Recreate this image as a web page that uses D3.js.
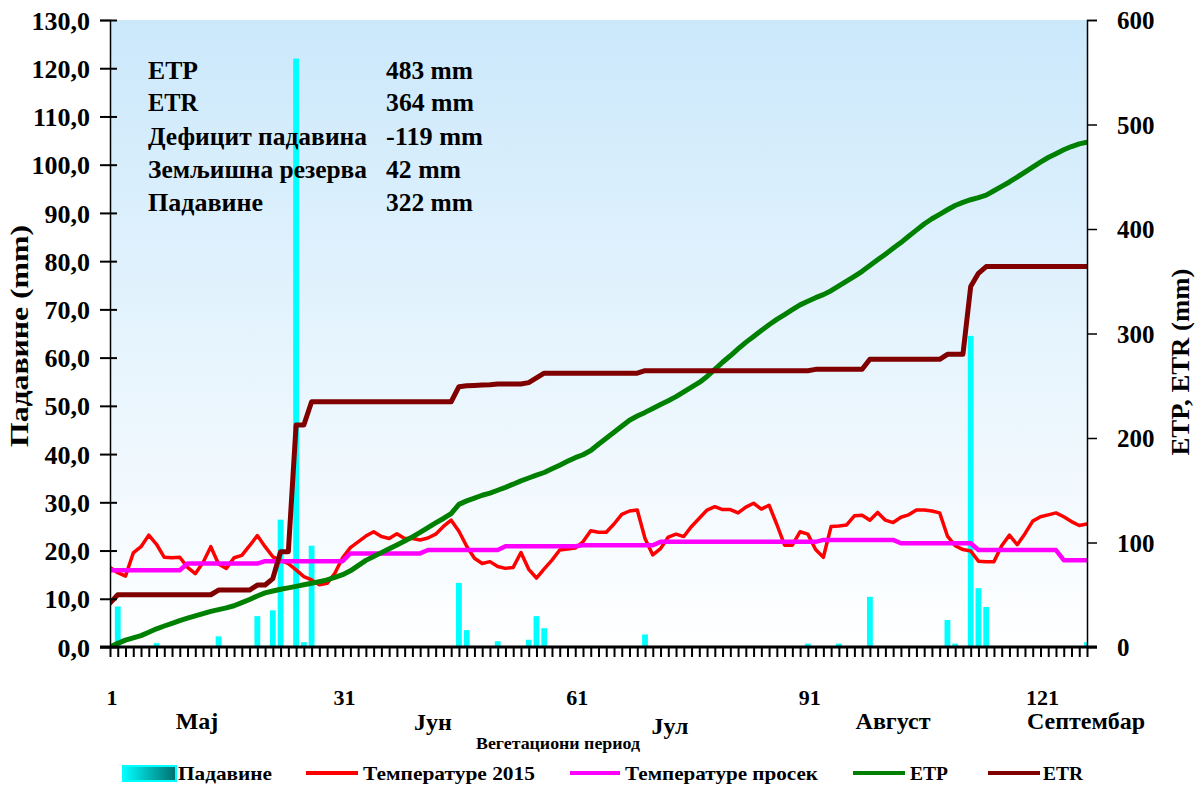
<!DOCTYPE html>
<html>
<head>
<meta charset="utf-8">
<script src="https://cdn.jsdelivr.net/npm/d3@7"></script>
<style>
  body { margin: 0; background: #fff; }
  svg { display: block; }
  text { font-family: "Liberation Serif", "DejaVu Serif", "Noto Serif", "Times New Roman", Times, serif; font-weight: bold; fill: #000; }
</style>
</head>
<body>
<svg id="chart" width="1199" height="786"></svg>
<script>
// Daily precipitation (mm) – only rainy days listed
const precipDays   = [2, 7, 15, 20, 22, 23, 25, 26, 27, 46, 47, 51, 55, 56, 57, 70, 91, 95, 99, 109, 110, 112, 113, 114, 127];
const precipValues = [8.4, 0.8, 2.2, 6.4, 7.6, 26.4, 122.0, 1.0, 21.0, 13.3, 3.5, 1.2, 1.5, 6.4, 3.9, 2.6, 0.7, 0.7, 10.4, 5.6, 0.7, 64.5, 12.2, 8.3, 1.0];

// Mean daily air temperature 2015 (°C)
const temp2015 = [
  16.5, 15.4, 14.7, 19.5, 20.8, 23.2, 21.3, 18.6, 18.5, 18.6,
  16.5, 15.2, 17.5, 20.8, 17.2, 16.3, 18.5, 19.0, 21.0, 23.1,
  20.8, 18.7, 18.0, 17.3, 16.0, 14.6, 13.9, 12.9, 13.2, 15.3,
  18.5, 20.6, 21.8, 23.0, 23.9, 22.9, 22.5, 23.5, 22.5, 22.5,
  22.2, 22.6, 23.4, 25.0, 26.3, 24.0, 20.9, 18.4, 17.3, 17.7,
  16.7, 16.3, 16.5, 19.6, 16.1, 14.3, 16.2, 18.0, 20.1, 20.3,
  20.5, 21.8, 24.1, 23.8, 23.8, 25.5, 27.5, 28.2, 28.4, 22.5,
  19.1, 20.4, 22.8, 23.4, 22.9, 25.0, 26.7, 28.4, 29.1, 28.5,
  28.5, 27.8, 29.0, 29.8, 28.6, 29.4, 25.4, 21.1, 21.1, 23.9,
  23.4, 20.2, 18.6, 25.0, 25.1, 25.3, 27.2, 27.3, 26.3, 27.9,
  26.3, 25.8, 26.9, 27.4, 28.4, 28.4, 28.2, 27.8, 23.0, 21.0,
  20.2, 19.9, 17.8, 17.7, 17.7, 21.0, 23.2, 21.2, 23.5, 26.1,
  27.0, 27.4, 27.8, 27.0, 26.0, 25.2, 25.5
];

// Long-term mean temperature per ten-day period (°C), by day
const tempAvg = [
  15.9, 15.9, 15.9, 15.9, 15.9, 15.9, 15.9, 15.9, 15.9, 15.9,
  17.3, 17.3, 17.3, 17.3, 17.3, 17.3, 17.3, 17.3, 17.3, 17.3,
  17.8, 17.8, 17.8, 17.8, 17.8, 17.8, 17.8, 17.8, 17.8, 17.8, 17.8,
  19.4, 19.4, 19.4, 19.4, 19.4, 19.4, 19.4, 19.4, 19.4, 19.4,
  20.1, 20.1, 20.1, 20.1, 20.1, 20.1, 20.1, 20.1, 20.1, 20.1,
  20.9, 20.9, 20.9, 20.9, 20.9, 20.9, 20.9, 20.9, 20.9, 20.9,
  21.1, 21.1, 21.1, 21.1, 21.1, 21.1, 21.1, 21.1, 21.1, 21.1,
  21.8, 21.8, 21.8, 21.8, 21.8, 21.8, 21.8, 21.8, 21.8, 21.8,
  21.8, 21.8, 21.8, 21.8, 21.8, 21.8, 21.8, 21.8, 21.8, 21.8, 21.8,
  22.2, 22.2, 22.2, 22.2, 22.2, 22.2, 22.2, 22.2, 22.2, 22.2,
  21.5, 21.5, 21.5, 21.5, 21.5, 21.5, 21.5, 21.5, 21.5, 21.5,
  20.1, 20.1, 20.1, 20.1, 20.1, 20.1, 20.1, 20.1, 20.1, 20.1, 20.1,
  18.0, 18.0, 18.0, 18.0
];

// Cumulative potential evapotranspiration (mm)
const etp = [
  0.0, 3.5, 6.6, 8.8, 10.9, 14.1, 17.4, 20.1, 22.7, 25.3,
  27.6, 29.8, 32.0, 34.1, 35.8, 37.5, 39.5, 42.5, 45.5, 48.8,
  51.8, 53.6, 55.3, 56.6, 58.0, 59.5, 61.0, 62.6, 64.2, 66.7,
  69.2, 72.9, 77.9, 82.9, 86.6, 90.3, 94.0, 97.7, 101.4, 105.4,
  109.7, 114.3, 118.7, 123.0, 127.7, 136.5, 139.8, 142.5, 145.2, 147.3,
  150.0, 152.8, 155.8, 159.0, 161.7, 164.4, 167.0, 170.5, 174.0, 177.7,
  181.2, 184.0, 188.0, 194.0, 199.7, 205.4, 211.2, 217.0, 221.0, 224.5,
  228.3, 232.1, 235.7, 239.6, 244.2, 248.7, 253.2, 258.9, 265.6, 272.5,
  278.7, 285.2, 291.5, 297.2, 302.8, 308.4, 313.5, 318.1, 322.8, 327.4,
  330.9, 334.3, 337.2, 341.0, 345.6, 350.1, 354.7, 359.5, 365.0, 370.5,
  375.9, 381.5, 387.0, 393.1, 398.9, 404.8, 409.8, 414.0, 418.4, 422.5,
  425.5, 428.0, 430.1, 432.4, 436.6, 440.8, 445.0, 449.7, 454.5, 459.3,
  464.0, 468.4, 472.1, 475.8, 478.9, 481.5, 483.0
];

// Cumulative actual evapotranspiration (mm)
const etr = [
  42.0, 50.0, 50.0, 50.0, 50.0, 50.0, 50.0, 50.0, 50.0, 50.0,
  50.0, 50.0, 50.0, 50.0, 54.5, 54.5, 54.5, 54.5, 54.5, 59.3,
  59.3, 65.5, 91.2, 91.2, 212.4, 212.4, 234.7, 234.7, 234.7, 234.7,
  234.7, 234.7, 234.7, 234.7, 234.7, 234.7, 234.7, 234.7, 234.7, 234.7,
  234.7, 234.7, 234.7, 234.7, 234.7, 249.1, 250.0, 250.3, 250.7, 251.0,
  251.7, 251.7, 251.7, 251.7, 253.0, 257.5, 262.0, 262.0, 262.0, 262.0,
  262.0, 262.0, 262.0, 262.0, 262.0, 262.0, 262.0, 262.0, 262.0, 264.4,
  264.4, 264.4, 264.4, 264.4, 264.4, 264.4, 264.4, 264.4, 264.4, 264.4,
  264.4, 264.4, 264.4, 264.4, 264.4, 264.4, 264.4, 264.4, 264.4, 264.4,
  264.4, 265.7, 265.7, 265.7, 265.7, 265.7, 265.7, 265.7, 275.3, 275.3,
  275.3, 275.3, 275.3, 275.3, 275.3, 275.3, 275.3, 275.3, 280.1, 280.1,
  280.1, 345.0, 357.6, 364.0, 364.0, 364.0, 364.0, 364.0, 364.0, 364.0,
  364.0, 364.0, 364.0, 364.0, 364.0, 364.0, 364.0
];

const dayTicks   = [1, 31, 61, 91, 121];
const leftTicks  = [0, 10, 20, 30, 40, 50, 60, 70, 80, 90, 100, 110, 120, 130];
const rightTicks = [0, 100, 200, 300, 400, 500, 600];

const months = [
  { name: "Мај", x: 197, y: 729 },
  { name: "Јун", x: 433, y: 730 },
  { name: "Јул", x: 670, y: 734 },
  { name: "Август", x: 893, y: 729 },
  { name: "Септембар", x: 1086, y: 729 }
];

const summaryLabels = ["ETP", "ETR", "Дефицит падавина", "Земљишна резерва", "Падавине"];
const summaryValues = ["483 mm", "364 mm", "-119 mm", "42 mm", "322 mm"];

const days = etp.map((_, i) => i + 1);

// ---- layout ----
const svg = d3.select("#chart");
const L = 110, R = 1087, T = 20, B = 647;
const FONT = '"Liberation Serif", "DejaVu Serif", "Noto Serif", "Times New Roman", Times, serif';

const x  = d3.scaleLinear().domain([1, days.length]).range([L, R]);
const yL = d3.scaleLinear().domain([0, 130]).range([B, T]);
const yR = d3.scaleLinear().domain([0, 600]).range([B, T]);

const defs = svg.append("defs");
const bg = defs.append("linearGradient").attr("id", "plotBg")
  .attr("x1", 0).attr("y1", 0).attr("x2", 0).attr("y2", 1);
bg.append("stop").attr("offset", "0%").attr("stop-color", "#cbe8fb");
bg.append("stop").attr("offset", "100%").attr("stop-color", "#ffffff");

const lg = defs.append("linearGradient").attr("id", "legendBar")
  .attr("x1", 0).attr("y1", 0).attr("x2", 1).attr("y2", 0);
lg.append("stop").attr("offset", "0%").attr("stop-color", "#00ffff");
lg.append("stop").attr("offset", "100%").attr("stop-color", "#006e6e");

defs.append("clipPath").attr("id", "plotClip")
  .append("rect").attr("x", L).attr("y", T).attr("width", R - L).attr("height", B - T);

svg.append("rect").attr("x", L).attr("y", T).attr("width", R - L).attr("height", B - T)
  .attr("fill", "url(#plotBg)");

const plot = svg.append("g").attr("clip-path", "url(#plotClip)");

// precipitation columns
const barW = 5.8;
plot.selectAll("rect.bar")
  .data(precipDays.map((d, i) => ({ day: d, v: precipValues[i] })))
  .join("rect").attr("class", "bar")
  .attr("x", d => x(d.day) - barW / 2)
  .attr("width", barW)
  .attr("y", d => yL(d.v))
  .attr("height", d => B - yL(d.v))
  .attr("fill", "#00ffff");

function drawLine(values, scale, color, width) {
  const line = d3.line().x((d, i) => x(days[i])).y(d => scale(d));
  plot.append("path").datum(values)
    .attr("d", line)
    .attr("fill", "none")
    .attr("stroke", color)
    .attr("stroke-width", width)
    .attr("stroke-linejoin", "round")
    .attr("stroke-linecap", "round");
}
drawLine(temp2015, yL, "#ff0000", 3.5);
drawLine(tempAvg, yL, "#ff00ff", 4.5);
drawLine(etp, yR, "#008000", 5);
drawLine(etr, yR, "#800000", 5);

// ---- axes ----
const fmt = d => d3.format(".1f")(d).replace(".", ",");
const gl = svg.append("g").attr("transform", `translate(${L},0)`)
  .call(d3.axisLeft(yL).tickValues(leftTicks).tickFormat(fmt).tickSize(10).tickPadding(12));
gl.attr("font-family", null);
gl.selectAll(".tick line").attr("x1", 7).attr("x2", -10).attr("stroke-width", 2);
gl.select(".domain").attr("stroke-width", 1.5);
gl.selectAll(".tick text").attr("font-size", 26).style("font-family", FONT)
  .attr("x", -20).attr("dy", "0.35em");

const gr = svg.append("g").attr("transform", `translate(${R},0)`)
  .call(d3.axisRight(yR).tickValues(rightTicks).tickSize(10).tickPadding(10));
gr.attr("font-family", null);
gr.selectAll(".tick line").attr("stroke-width", 1.5);
gr.select(".domain").attr("stroke-width", 1.5);
gr.selectAll(".tick text").attr("font-size", 25).style("font-family", FONT)
  .attr("x", 30).attr("dy", "0.35em");

const gb = svg.append("g").attr("transform", `translate(0,${B})`)
  .call(d3.axisBottom(x).tickValues(days).tickFormat("").tickSize(10));
gb.selectAll(".tick line").attr("stroke-width", 2);
gb.select(".domain").remove();
svg.append("line").attr("x1", 100).attr("x2", 1097).attr("y1", B).attr("y2", B)
  .attr("stroke", "#000").attr("stroke-width", 3);

// day numbers under the axis
svg.selectAll("text.dayLbl").data(dayTicks).join("text").attr("class", "dayLbl")
  .attr("x", d => x(d) + 2).attr("y", 705)
  .attr("text-anchor", "middle").attr("font-size", 22)
  .text(d => d);

// month names
svg.selectAll("text.month").data(months).join("text").attr("class", "month")
  .attr("x", d => d.x).attr("y", d => d.y)
  .attr("text-anchor", "middle").attr("font-size", 24)
  .text(d => d.name);

svg.append("text").attr("x", 558).attr("y", 749).attr("text-anchor", "middle")
  .attr("font-size", 17).attr("textLength", 164).attr("lengthAdjust", "spacingAndGlyphs")
  .text("Вегетациони период");

// axis titles
svg.append("text").attr("transform", "translate(28,336) rotate(-90)")
  .attr("text-anchor", "middle").attr("font-size", 25)
  .attr("textLength", 222).attr("lengthAdjust", "spacingAndGlyphs").text("Падавине (mm)");
svg.append("text").attr("transform", "translate(1189,362) rotate(-90)")
  .attr("text-anchor", "middle").attr("font-size", 25)
  .attr("textLength", 187).attr("lengthAdjust", "spacingAndGlyphs").text("ETP, ETR (mm)");

// summary block
const sumY = [79, 111, 145, 178, 211];
const sumLW = [50, 50, 219, 219, 115];
const sumVW = [87, 88, 97, 75, 87];
svg.selectAll("text.sumL").data(summaryLabels).join("text").attr("class", "sumL")
  .attr("x", 148).attr("y", (d, i) => sumY[i]).attr("font-size", 26)
  .attr("textLength", (d, i) => sumLW[i]).attr("lengthAdjust", "spacingAndGlyphs")
  .text(d => d);
svg.selectAll("text.sumV").data(summaryValues).join("text").attr("class", "sumV")
  .attr("x", 386).attr("y", (d, i) => sumY[i]).attr("font-size", 26)
  .attr("textLength", (d, i) => sumVW[i]).attr("lengthAdjust", "spacingAndGlyphs")
  .text(d => d);

// legend
const legY = 773;
svg.append("rect").attr("x", 123).attr("y", 766).attr("width", 53).attr("height", 15)
  .attr("fill", "url(#legendBar)").attr("stroke", "#00ffff").attr("stroke-width", 2);
const legendLines = [
  { x1: 306, x2: 358, color: "#ff0000", w: 4 },
  { x1: 570, x2: 620, color: "#ff00ff", w: 4 },
  { x1: 853, x2: 905, color: "#008000", w: 4 },
  { x1: 988, x2: 1040, color: "#800000", w: 4 }
];
svg.selectAll("line.leg").data(legendLines).join("line").attr("class", "leg")
  .attr("x1", d => d.x1).attr("x2", d => d.x2).attr("y1", legY).attr("y2", legY)
  .attr("stroke", d => d.color).attr("stroke-width", d => d.w);
const legendText = [
  { t: "Падавине", x: 178, w: 94 },
  { t: "Температуре 2015", x: 363, w: 172 },
  { t: "Температуре просек", x: 625, w: 193 },
  { t: "ETP", x: 910, w: 38 },
  { t: "ETR", x: 1043, w: 40 }
];
svg.selectAll("text.legT").data(legendText).join("text").attr("class", "legT")
  .attr("x", d => d.x).attr("y", 780).attr("font-size", 19)
  .attr("textLength", d => d.w).attr("lengthAdjust", "spacingAndGlyphs")
  .text(d => d.t);
</script>
</body>
</html>
